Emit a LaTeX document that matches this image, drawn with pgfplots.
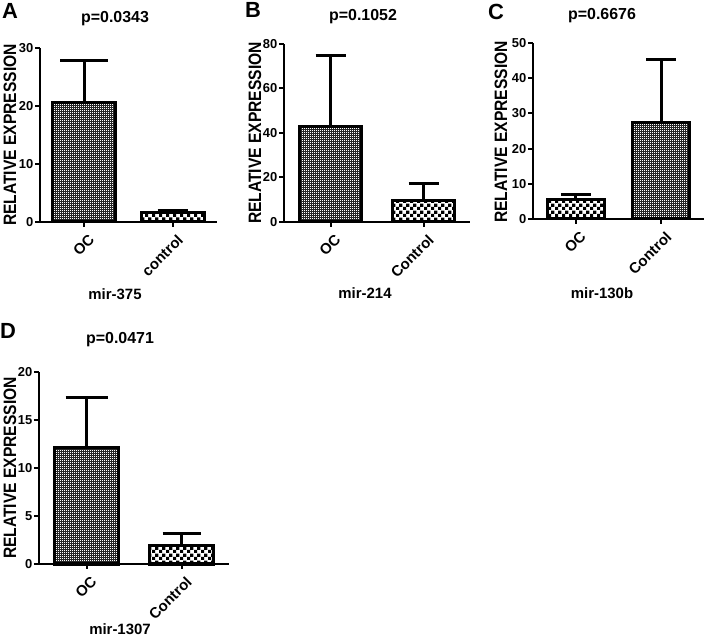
\documentclass[border=0pt]{standalone}
\usepackage{pgfplots}
\pgfplotsset{compat=1.18}
\usepackage{fontspec}
\setmainfont{Liberation Sans}
\newfontfamily\cond[FakeStretch=0.87]{Liberation Sans}
\usetikzlibrary{patterns}
\pgfdeclarepatternformonly{whitedots}{\pgfqpoint{0pt}{0pt}}{\pgfqpoint{2bp}{2bp}}{\pgfqpoint{2bp}{2bp}}{%
  \pgfpathrectangle{\pgfqpoint{0pt}{0pt}}{\pgfqpoint{1.15bp}{1.15bp}}%
  \pgfusepath{fill}}
\pgfdeclarepatternformonly{coarsecheck}{\pgfqpoint{0pt}{0pt}}{\pgfqpoint{6.6bp}{6.6bp}}{\pgfqpoint{6.6bp}{6.6bp}}{%
  \pgfpathrectangle{\pgfqpoint{0pt}{0pt}}{\pgfqpoint{3.3bp}{3.3bp}}%
  \pgfpathrectangle{\pgfqpoint{3.3bp}{3.3bp}}{\pgfqpoint{3.3bp}{3.3bp}}%
  \pgfusepath{fill}}
\pgfplotsset{
  panel/.style={
    scale only axis, anchor=south west,
    axis lines=left, axis line style={-, line width=2bp},
    ymin=0, xmin=-0.5, xmax=1.5, xtick={0,1}, clip=false,
    tick style={line width=2bp, black},
    major tick length=5bp, tick align=outside,
    /pgf/number format/assume math mode=true,
    yticklabel style={font=\bfseries\fontsize{13}{13}\selectfont, inner sep=1.5bp},
    xticklabel style={font=\bfseries\fontsize{15}{15}\selectfont, rotate=45, anchor=north east, inner sep=2bp, yshift=-5bp},
  },
  fbar/.style={ybar, bar shift=0pt, draw=black, line width=3bp, preaction={fill=black!85}, pattern=whitedots, pattern color=white},
  cbar/.style={ybar, bar shift=0pt, draw=black, line width=3bp, pattern=coarsecheck},
  eb/.style={error bars/.cd, y dir=plus, y explicit,
     error bar style={line width=3bp, black},
     error mark options={rotate=90, line width=3bp, black, mark size=#1}},
}
\begin{document}
\begin{tikzpicture}[x=1bp,y=1bp]
\path[use as bounding box] (0bp,0bp) rectangle (704bp,639bp);
% Panel A
\begin{axis}[panel, at={(40bp,417bp)}, width=177bp, height=174bp,
  ymax=30, ytick={0,10,20,30},
  xticklabels={OC,control}]
\addplot[fbar, bar width=0.71, eb=24bp] coordinates {(0,20.6) +- (0,7.3)};
\addplot[cbar, bar width=0.71, eb=15bp] coordinates {(1,1.6) +- (0,0.4)};
\end{axis}
% Panel B
\begin{axis}[panel, at={(284bp,417bp)}, width=186bp, height=178bp,
  ymax=80, ytick={0,20,40,60,80},
  xticklabels={OC,Control}]
\addplot[fbar, bar width=0.67, eb=15bp] coordinates {(0,43) +- (0,32)};
\addplot[cbar, bar width=0.67, eb=15bp] coordinates {(1,9.7) +- (0,7.6)};
\end{axis}
% Panel C
\begin{axis}[panel, at={(533bp,420bp)}, width=171bp, height=176bp,
  ymax=50, ytick={0,10,20,30,40,50},
  xticklabels={OC,Control}]
\addplot[cbar, bar width=0.67, eb=15bp] coordinates {(0,5.4) +- (0,1.7)};
\addplot[fbar, bar width=0.67, eb=15bp] coordinates {(1,27.3) +- (0,17.9)};
\end{axis}
% Panel D
\begin{axis}[panel, at={(39bp,75bp)}, width=190bp, height=192bp,
  ymax=20, ytick={0,5,10,15,20},
  xticklabels={OC,Control}]
\addplot[fbar, bar width=0.68, eb=21bp] coordinates {(0,12.1) +- (0,5.2)};
\addplot[cbar, bar width=0.68, eb=19bp] coordinates {(1,1.9) +- (0,1.3)};
\end{axis}
% letters
\begin{scope}[every node/.style={font=\bfseries\fontsize{22}{22}\selectfont, inner sep=0pt}]
\node at (10bp,628bp) {A};
\node at (253bp,629bp) {B};
\node at (496bp,627bp) {C};
\node at (8bp,308bp) {D};
\end{scope}
% titles
\begin{scope}[every node/.style={font=\bfseries\fontsize{16}{16}\selectfont, inner sep=0pt}]
\node at (115bp,620bp) {p=0.0343};
\node at (363bp,622bp) {p=0.1052};
\node at (602bp,623bp) {p=0.6676};
\node at (120bp,299bp) {p=0.0471};
\end{scope}
% y labels
\begin{scope}[every node/.style={font=\cond\bfseries\fontsize{18}{18}\selectfont, inner sep=0pt, rotate=90}]
\node at (10bp,504bp) {RELATIVE EXPRESSION};
\node at (255bp,506bp) {RELATIVE EXPRESSION};
\node at (501bp,507bp) {RELATIVE EXPRESSION};
\node at (10bp,171bp) {RELATIVE EXPRESSION};
\end{scope}
% x labels
\begin{scope}[every node/.style={font=\bfseries\fontsize{15}{15}\selectfont, inner sep=0pt}]
\node at (115bp,345bp) {mir-375};
\node at (365bp,346bp) {mir-214};
\node at (602bp,346bp) {mir-130b};
\node at (120bp,10bp) {mir-1307};
\end{scope}
\end{tikzpicture}
\end{document}
